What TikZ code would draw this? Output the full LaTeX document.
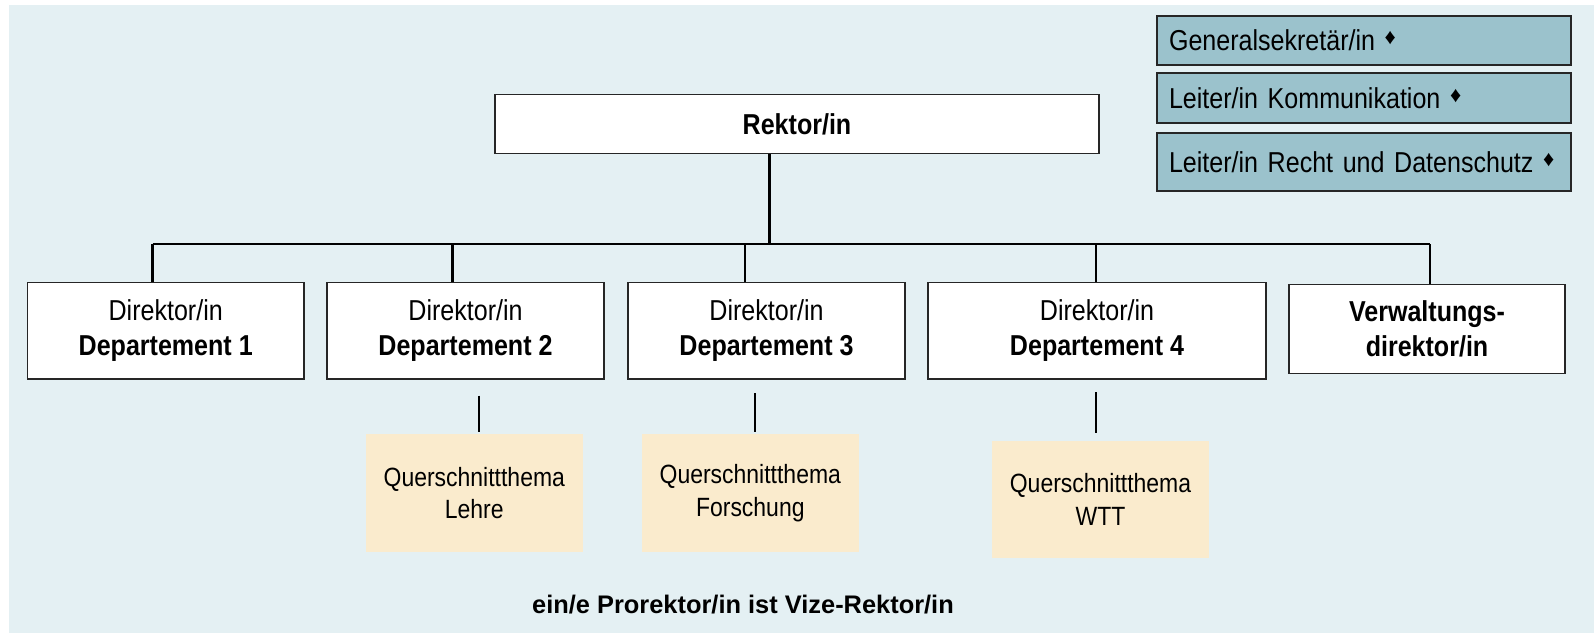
\documentclass[tikz,border=0pt]{standalone}
\usepackage{fontspec}
\setmainfont{Liberation Sans}[FakeStretch=0.87]
\newfontfamily\notefont{Liberation Sans}
\usetikzlibrary{positioning}
\definecolor{bgblue}{RGB}{228,240,243}
\definecolor{staffblue}{RGB}{155,194,204}
\definecolor{themesand}{RGB}{250,235,205}
\newcommand*{\dia}{\raisebox{0.4ex}{\notefont\fontsize{11}{11}\selectfont ♦}}

\begin{document}
\begin{tikzpicture}[x=0.5pt,y=-0.5pt,
    block_head/.style ={rectangle, draw=black!85, line width=0.65pt, fill=white,
      font=\fontsize{14.4}{17.3}\selectfont\bfseries, minimum width=302pt, minimum height=29.5pt},
    block_dept/.style ={rectangle, draw=black!85, line width=0.65pt, fill=white,
      align=center, font=\fontsize{14.4}{17.3}\selectfont,
      minimum width=138.4pt, minimum height=48.2pt, inner sep=0pt},
    block_staff/.style ={rectangle, draw=black!85, line width=0.6pt, fill=staffblue,
      font=\fontsize{14.4}{17.3}\selectfont, text width=195pt, align=left,
      minimum width=207pt, inner xsep=6pt},
    block_theme/.style ={rectangle, draw=none, fill=themesand, align=center,
      font=\fontsize{13.2}{16.3}\selectfont, minimum width=108.5pt, minimum height=59pt},
    line/.style ={draw=black, line width=1.1pt}]
    \useasboundingbox (0,0) rectangle (1594,633);
    \fill[bgblue] (9,5) rectangle (1594,633);
    % staff positions top right
    \node [block_staff, minimum height=24.5pt] (sekretaer) at (1364,40.5) {Generalsekretär/in \dia};
    \node [block_staff, minimum height=25pt] (kommunikation) at (1364,98) {Leiter/in Kommunikation \dia};
    \node [block_staff, minimum height=29pt] (recht) at (1364,162) {Leiter/in Recht und Datenschutz \dia};
    % row 1
    \node [block_head] (rektor) at (797,124) {Rektor/in};
    % row 2
    \node [block_dept] (dept1) at (165.7,330.8) {Direktor/in\\\textbf{Departement 1}};
    \node [block_dept, minimum width=138.5pt] (dept2) at (465.5,330.8) {Direktor/in\\\textbf{Departement 2}};
    \node [block_dept, minimum width=138.5pt] (dept3) at (766.5,330.8) {Direktor/in\\\textbf{Departement 3}};
    \node [block_dept, minimum width=169pt] (dept4) at (1097,330.8) {Direktor/in\\\textbf{Departement 4}};
    \node [block_dept, minimum width=138pt, minimum height=44.5pt, font=\fontsize{14.4}{17.3}\selectfont\bfseries] (verwaltung) at (1427,329) {Verwaltungs-\\direktor/in};
    % row 3
    \node [block_theme] (lehre) at (474.3,493) {Querschnittthema\\Lehre};
    \node [block_theme] (forschung) at (750.3,493) {Querschnittthema\\Forschung};
    \node [block_theme, minimum height=58.5pt] (wtt) at (1100.5,499.5) {Querschnittthema\\WTT};
    % note
    \node [font=\notefont\fontsize{12.7}{15}\selectfont\bfseries] (note) at (743,605) {ein/e Prorektor/in ist Vize-Rektor/in};
    % bus coordinates
    \coordinate (hub) at (769.5,244);
    \coordinate (bus1) at (152.5,244);
    \coordinate (bus2) at (452.5,244);
    \coordinate (bus3) at (745,244);
    \coordinate (bus4) at (1096,244);
    \coordinate (bus5) at (1430,244);
    \coordinate (tick2) at (479,395.5);
    \coordinate (tick3) at (755,393);
    \coordinate (tick4) at (1096,392);
    % connecting nodes with paths
    \begin{scope}[every path/.style=line]
      \path (rektor.south -| hub) -- (hub);
      \path (bus1) -- (bus5);
      \path (bus1) -- (bus1 |- dept1.north);
      \path (bus2) -- (bus2 |- dept2.north);
      \path (bus3) -- (bus3 |- dept3.north);
      \path (bus4) -- (bus4 |- dept4.north);
      \path (bus5) -- (bus5 |- verwaltung.north);
      \path (tick2) -- ([yshift=1pt]tick2 |- lehre.north);
      \path (tick3) -- ([yshift=1pt]tick3 |- forschung.north);
      \path (tick4) -- ([yshift=4pt]tick4 |- wtt.north);
    \end{scope}
\end{tikzpicture}
\end{document}
